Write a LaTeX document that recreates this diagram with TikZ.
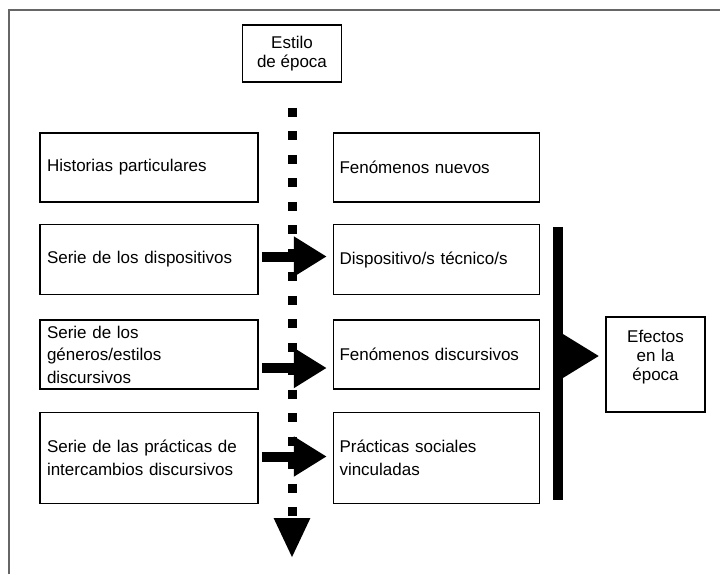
\documentclass[tikz,border=0pt]{standalone}
\usepackage{fontspec}
\setmainfont{Liberation Sans}
\usetikzlibrary{arrows.meta,positioning}
\tikzset{
    %Define standard boxes
    caja/.style={
      rectangle,
      draw=black, line width=1.5pt,
      inner xsep=7pt,
      text width=204pt,
      align=left,
      font=\fontsize{17}{22.5}\selectfont},
    cajader/.style={
      caja,
      inner xsep=6pt,
      text width=194pt},
    cajachica/.style={
      rectangle,
      draw=black, line width=1.5pt,
      align=center,
      font=\fontsize{17}{19}\selectfont},
    %Define arrows
    flecha/.style={
      -{Triangle[length=33pt,width=38pt]},
      line width=10pt,
      shorten <=3pt, shorten >=6pt},
    puntos/.style={
      -{Triangle[length=40pt,width=34pt]},
      line width=9pt,
      dash pattern=on 9pt off 14.5pt},
    barra/.style={
      line width=10pt},
    marco/.style={
      draw=black!60, line width=2pt},
}

\begin{document}
\begin{tikzpicture}[x=1pt, y=1pt]
    \useasboundingbox (0,0) rectangle (720,-574);
    \draw [marco] (9,-574) -- (9,-10) -- (720,-10);
    \node (estilo) [cajachica, minimum width=99pt, minimum height=57pt] at (292,-53.5)
          {Estilo\\de época};
    \node (hist) [caja, minimum height=69pt] at (149,-167.5)
          {Historias particulares};
    \node (disp) [caja, minimum height=70pt] [below=21pt of hist]
          {Serie de los dispositivos};
    \node (gen) [caja, minimum height=69pt] [below=24pt of disp]
          {Serie de los\\géneros/estilos\\discursivos};
    \node (prac) [caja, minimum height=91pt] [below=22pt of gen]
          {Serie de las prácticas de\\intercambios discursivos};
    \node (nuevos) [cajader, minimum height=69pt] [right=74pt of hist]
          {Fenómenos nuevos};
    \node (tecn) [cajader, minimum height=70pt] [right=74pt of disp]
          {Dispositivo/s técnico/s};
    \node (fdisc) [cajader, minimum height=69pt] [right=74pt of gen]
          {Fenómenos discursivos};
    \node (psoc) [cajader, minimum height=91pt] [right=74pt of prac]
          {Prácticas sociales\\vinculadas};
    \node (efectos) [cajachica, inner xsep=7pt, text width=85pt, minimum height=95pt] at (655.5,-364.5)
          {Efectos\\en la\\época\\\rule{0pt}{14pt}};
    % eje vertical
    \coordinate (fin) at (292,-558);
    \draw [puntos, shorten <=25pt] (estilo.south) -- (fin);
    % flechas entre columnas
    \draw [flecha] ([yshift=3pt]disp.east) -- ([yshift=3pt]tecn.west);
    \draw [flecha] ([yshift=-13.5pt]gen.east) -- ([yshift=-13.5pt]fdisc.west);
    \draw [flecha] ([yshift=1.5pt]prac.east) -- ([yshift=1.5pt]psoc.west);
    % barra de efectos
    \coordinate (bsup) at (558,-227);
    \coordinate (binf) at (558,-500);
    \coordinate (bmed) at (558,-356);
    \draw [barra] (bsup) -- (binf);
    \draw [-{Triangle[length=37pt,width=42pt]}, line width=10pt, shorten >=6pt]
          (bmed) -- (efectos.west |- bmed);
\end{tikzpicture}
\end{document}
